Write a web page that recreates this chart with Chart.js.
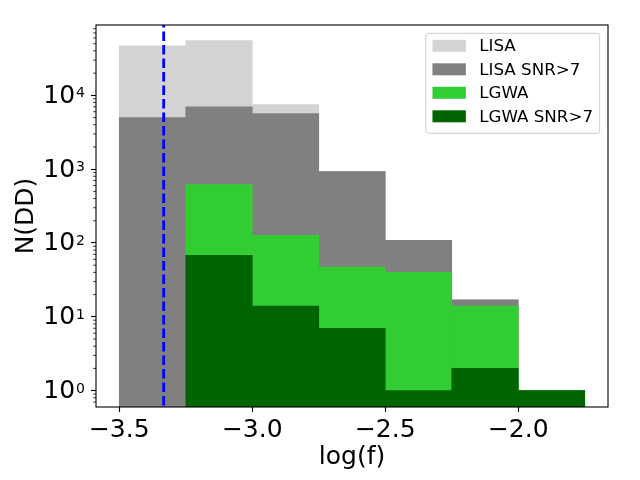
<!DOCTYPE html>
<html>
<head>
<meta charset="utf-8">
<script src="https://cdn.jsdelivr.net/npm/chart.js@4.4.1/dist/chart.umd.min.js"></script>
<style>
  html, body { margin: 0; padding: 0; background: #fff; }
  canvas { display: block; }
</style>
</head>
<body>
<canvas id="chart" width="640" height="480"></canvas>
<script>
// bin centres of log(f), width 0.25
const binCenters = [-3.375, -3.125, -2.875, -2.625, -2.375, -2.125, -1.875];
const lisa = [47000, 55000, 7500, 930, 109, 17, 1];
const lisaSnr = [5000, 7000, 5650, 930, 109, 17, 1];
const lgwa = [null, 620, 127, 47, 40, 14, 1];
const lgwaSnr = [null, 68, 14, 7, 1, 2, 1];
const seriesLabels = ["LISA", "LISA SNR>7", "LGWA", "LGWA SNR>7"];
const seriesColors = ["#d3d3d3", "#808080", "#32cd32", "#006400"];
const xTicks = [-3.5, -3.0, -2.5, -2.0];
const yTickExponents = [0, 1, 2, 3, 4];
const cutoff = -3.333; // dashed line
const xMin = -3.5875, xMax = -1.6625;
const yMin = 0.628, yMax = 89700;

const FONT = "'DejaVu Sans', sans-serif";

function toPoints(vals) {
  return binCenters.map((x, i) => ({ x: x, y: vals[i] }));
}

const seriesValues = [lisa, lisaSnr, lgwa, lgwaSnr];
const datasets = seriesValues.map((vals, i) => ({
  type: "bar",
  label: seriesLabels[i],
  data: toPoints(vals),
  backgroundColor: seriesColors[i],
  borderWidth: 0,
  barPercentage: 1.0,
  categoryPercentage: 1.0,
  grouped: false,
  order: 4 - i,
}));
datasets.push({
  type: "line",
  label: "cutoff",
  data: [{ x: cutoff, y: yMin }, { x: cutoff, y: yMax }],
  borderColor: "#0000ff",
  borderWidth: 2.8,
  borderDash: [9.5, 4],
  pointRadius: 0,
  fill: false,
  order: 0,
});

// minor ticks, superscript labels, frame and legend
const extras = {
  id: "extras",
  afterDraw(chart) {
    const ctx = chart.ctx;
    const area = chart.chartArea;
    const ys = chart.scales.y;
    ctx.save();

    // minor log ticks
    ctx.strokeStyle = "#000";
    ctx.lineWidth = 0.8;
    for (let k = -1; k <= 5; k++) {
      for (let m = 2; m <= 9; m++) {
        const v = m * Math.pow(10, k);
        if (v < yMin || v > yMax) continue;
        const py = ys.getPixelForValue(v);
        ctx.beginPath();
        ctx.moveTo(area.left - 2.8, py);
        ctx.lineTo(area.left, py);
        ctx.stroke();
      }
    }

    // y tick labels 10^k
    ctx.fillStyle = "#000";
    yTickExponents.forEach((e) => {
      const py = ys.getPixelForValue(Math.pow(10, e));
      const right = area.left - 11;
      ctx.font = "14px " + FONT;
      const ew = ctx.measureText(String(e)).width;
      ctx.textAlign = "right";
      ctx.textBaseline = "alphabetic";
      ctx.fillText(String(e), right, py + 2);
      ctx.font = "25px " + FONT;
      ctx.textBaseline = "middle";
      ctx.fillText("10", right - ew - 1, py + 1);
    });

    // frame
    ctx.lineWidth = 1.1;
    ctx.strokeStyle = "#000";
    ctx.strokeRect(area.left, area.top, area.right - area.left, area.bottom - area.top);

    // legend
    const fs = 16.7;
    ctx.font = fs + "px " + FONT;
    let maxW = 0;
    seriesLabels.forEach((t) => { maxW = Math.max(maxW, ctx.measureText(t).width); });
    const pad = 0.4 * fs, handleW = 2 * fs, textPad = 0.8 * fs;
    const boxW = pad + handleW + textPad + maxW + pad;
    const boxH = 100;
    const boxRight = area.right - 8.3;
    const boxLeft = boxRight - boxW;
    const boxTop = area.top + 8.3;
    ctx.beginPath();
    ctx.roundRect(boxLeft, boxTop, boxW, boxH, 3);
    ctx.fillStyle = "rgba(255,255,255,0.8)";
    ctx.fill();
    ctx.strokeStyle = "#cccccc";
    ctx.lineWidth = 1;
    ctx.stroke();
    seriesLabels.forEach((t, i) => {
      const cy = boxTop + 12.5 + i * 23.5;
      ctx.fillStyle = seriesColors[i];
      ctx.fillRect(boxLeft + pad, cy - 6, handleW, 12);
      ctx.fillStyle = "#000";
      ctx.textAlign = "left";
      ctx.textBaseline = "middle";
      ctx.fillText(t, boxLeft + pad + handleW + textPad, cy + 1);
    });
    ctx.restore();
  },
};

new Chart(document.getElementById("chart").getContext("2d"), {
  data: { datasets: datasets },
  options: {
    responsive: false,
    animation: false,
    devicePixelRatio: 1,
    layout: { padding: { left: 0, right: 32, top: 25, bottom: 0 } },
    plugins: {
      legend: { display: false },
      tooltip: { enabled: false },
    },
    scales: {
      x: {
        type: "linear",
        min: xMin,
        max: xMax,
        offset: false,
        afterBuildTicks: (s) => { s.ticks = xTicks.map((v) => ({ value: v })); },
        afterFit: (s) => { s.height = 73; },
        ticks: {
          color: "#000",
          font: { family: FONT, size: 25 },
          padding: 3,
          maxRotation: 0,
          callback: (v) => (v < 0 ? "\u2212" : "") + Math.abs(v).toFixed(1),
        },
        grid: {
          display: true,
          offset: false,
          drawOnChartArea: false,
          drawTicks: true,
          tickLength: 5,
          tickColor: "#000",
          tickWidth: 1.1,
        },
        border: { display: false },
        title: {
          display: true,
          text: "log(f)",
          color: "#000",
          font: { family: FONT, size: 25 },
          padding: { top: 0, bottom: 8 },
        },
      },
      y: {
        type: "logarithmic",
        min: yMin,
        max: yMax,
        afterBuildTicks: (s) => { s.ticks = yTickExponents.map((e) => ({ value: Math.pow(10, e) })); },
        afterFit: (s) => { s.width = 96; },
        ticks: {
          color: "#000",
          font: { family: FONT, size: 25 },
          callback: () => "",
        },
        grid: {
          display: true,
          drawOnChartArea: false,
          drawTicks: true,
          tickLength: 5,
          tickColor: "#000",
          tickWidth: 1.1,
        },
        border: { display: false },
        title: {
          display: true,
          text: "N(DD)",
          color: "#000",
          font: { family: FONT, size: 25 },
          padding: { top: 11, bottom: 0 },
        },
      },
    },
  },
  plugins: [extras],
});
</script>
</body>
</html>
